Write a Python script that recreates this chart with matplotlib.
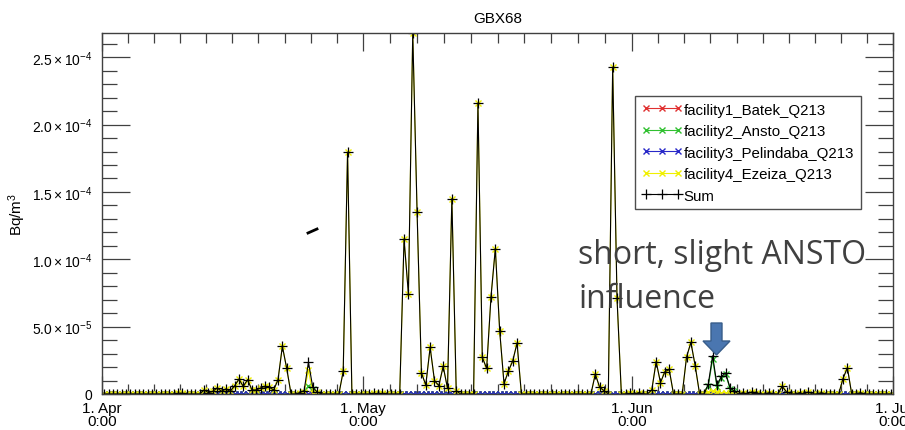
import numpy as np
import matplotlib.pyplot as plt
from matplotlib.patches import Polygon
from matplotlib.lines import Line2D

plt.rcParams['font.family'] = ['Liberation Sans', 'DejaVu Sans']
plt.rcParams['mathtext.fontset'] = 'custom'
plt.rcParams['mathtext.rm'] = 'Liberation Sans'
plt.rcParams['mathtext.it'] = 'Liberation Sans:italic'

# samples every 12 h, sample k sits at day 0.25 + 0.5*k after 1 Apr 0:00
n_samples = 182

# non-zero values of the sum (units of 1e-5 Bq/m3), keyed by sample index
sum_nonzero = {
    17: 0.05, 18: 0.05,
    23: 0.3, 24: 0.1, 25: 0.2, 26: 0.45, 27: 0.2, 28: 0.37, 29: 0.2, 30: 0.6,
    31: 1.1, 32: 0.57, 33: 1.06, 34: 0.3, 35: 0.3, 36: 0.45, 37: 0.57, 38: 0.5,
    39: 0.3, 40: 1.06, 41: 3.54, 42: 1.9,
    45: 0.1, 46: 0.25, 47: 2.35, 48: 0.5, 49: 0.15,
    55: 1.68, 56: 17.95,
    62: 0.05, 64: 0.05,
    69: 11.5, 70: 7.42, 71: 26.8, 72: 13.48, 73: 1.56, 74: 0.67, 75: 3.46,
    76: 0.99, 77: 0.62, 78: 2.05, 79: 0.42, 80: 14.5, 81: 0.25,
    86: 21.6, 87: 2.72, 88: 1.9, 89: 7.2, 90: 10.8, 91: 4.7, 92: 0.76,
    93: 1.7, 94: 2.45, 95: 3.78,
    113: 1.48, 114: 0.5, 115: 0.25, 117: 24.26, 118: 7.1,
    121: 0.05, 123: 0.1,
    126: 0.3, 127: 2.4, 128: 0.85, 129: 1.65, 130: 1.82,
    134: 2.75, 135: 3.83, 136: 2.07,
    139: 0.74, 140: 2.84, 141: 0.65, 142: 1.3, 143: 1.56, 144: 0.45, 145: 0.2,
    147: 0.1, 149: 0.15, 150: 0.1, 153: 0.1, 156: 0.57, 157: 0.15,
    160: 0.1, 162: 0.15, 165: 0.1,
    170: 1.15, 171: 1.95, 174: 0.1,
}
# ANSTO contribution (units of 1e-5 Bq/m3)
ansto_nonzero = {
    46: 0.1, 47: 0.6, 48: 0.4,
    139: 0.6, 140: 2.6, 141: 0.5, 142: 1.2, 143: 1.45, 144: 0.4, 145: 0.2,
}

month_days = [0, 30, 61, 91]
month_labels = ['1. Apr\n0:00', '1. May\n0:00', '1. Jun\n0:00', '1. Jul\n0:00']
y_major = [0, 5e-5, 1e-4, 1.5e-4, 2e-4, 2.5e-4]
y_labels = ['0', r'$\mathregular{5.0\times10^{-5}}$', r'$\mathregular{1.0\times10^{-4}}$',
            r'$\mathregular{1.5\times10^{-4}}$', r'$\mathregular{2.0\times10^{-4}}$',
            r'$\mathregular{2.5\times10^{-4}}$']

days = 0.25 + 0.5 * np.arange(n_samples)
total = np.zeros(n_samples)
for k, v in sum_nonzero.items():
    total[k] = v * 1e-5
ansto = np.zeros(n_samples)
for k, v in ansto_nonzero.items():
    ansto[k] = v * 1e-5
batek = np.zeros(n_samples)
pelindaba = np.zeros(n_samples)
ezeiza = total - ansto

fig = plt.figure(figsize=(9.05, 4.31), dpi=100)
ax = fig.add_axes([102/905, 1 - 395/431, 791/905, 361/431])

ax.plot(days, batek, color='#e03030', marker='x', ms=4, lw=0.8, label='facility1_Batek_Q213')
ax.plot(days, ansto, color='#30c030', marker='x', ms=4, lw=0.8, label='facility2_Ansto_Q213')
ax.plot(days, pelindaba, color='#2828c8', marker='x', ms=4, lw=0.8, label='facility3_Pelindaba_Q213')
ax.plot(days, ezeiza, color='#f0f000', marker='x', ms=5, lw=0.8, label='facility4_Ezeiza_Q213')
ax.plot(days, total, color='black', marker='+', ms=7, mew=0.9, lw=0.8, label='Sum')

ax.set_xlim(0, 91)
ax.set_ylim(0, 2.68e-4)

minor = []
for a, b in zip(month_days[:-1], month_days[1:]):
    minor += list(np.linspace(a, b, 11)[1:-1])
ax.set_xticks(month_days)
ax.set_xticklabels(month_labels, fontsize=11, linespacing=0.9)
ax.set_xticks(minor, minor=True)
ax.set_yticks(y_major)
ax.set_yticklabels(y_labels, fontsize=10)
ax.set_yticks(np.arange(0, 2.7e-4, 1e-5), minor=True)

ax.tick_params(axis='both', which='both', direction='in', top=True, right=True, color='0.25')
ax.tick_params(axis='y', which='major', length=20, width=0.9, pad=7)
ax.tick_params(axis='y', which='minor', length=11, width=0.9)
ax.tick_params(axis='x', which='major', length=13, width=0.9, pad=5)
ax.tick_params(axis='x', which='minor', length=7, width=0.9)
for s in ax.spines.values():
    s.set_linewidth(1.0)
    s.set_color('0.25')

ax.set_title('GBX68', fontsize=11, pad=8)
ax.set_ylabel(r'Bq/m$\mathregular{^{3}}$', fontsize=11)
ax.yaxis.set_label_coords(-0.0936, 0.5)

leg = ax.legend(loc='upper left', bbox_to_anchor=(0.6738, 0.8255), borderaxespad=0,
                numpoints=3, handlelength=2.7, handletextpad=0.1, borderpad=0.45,
                labelspacing=0.5, fontsize=10.8, fancybox=False, edgecolor='0.3',
                framealpha=1)
leg.get_frame().set_linewidth(1.0)

# slide annotation
fig.text(578/905, 1 - 264/431, 'short, slight ANSTO', fontsize=23, color='#404040',
         family='Open Sans', va='baseline')
fig.text(578/905, 1 - 308/431, 'influence', fontsize=23, color='#404040',
         family='Open Sans', va='baseline')
arrow_px = [(711, 324), (722, 324), (722, 342), (730, 342), (716.5, 356), (703, 342), (711, 342)]
fig.patches.append(Polygon([(x/905, 1 - y/431) for x, y in arrow_px], closed=True,
                           transform=fig.transFigure, facecolor='#4a76b0',
                           edgecolor='#385d8a', lw=1, zorder=5))
fig.lines.append(Line2D([308/905, 317/905], [1 - 234/431, 1 - 230/431],
                        transform=fig.transFigure, color='black', lw=2))

fig.savefig('out.png', dpi=100)
